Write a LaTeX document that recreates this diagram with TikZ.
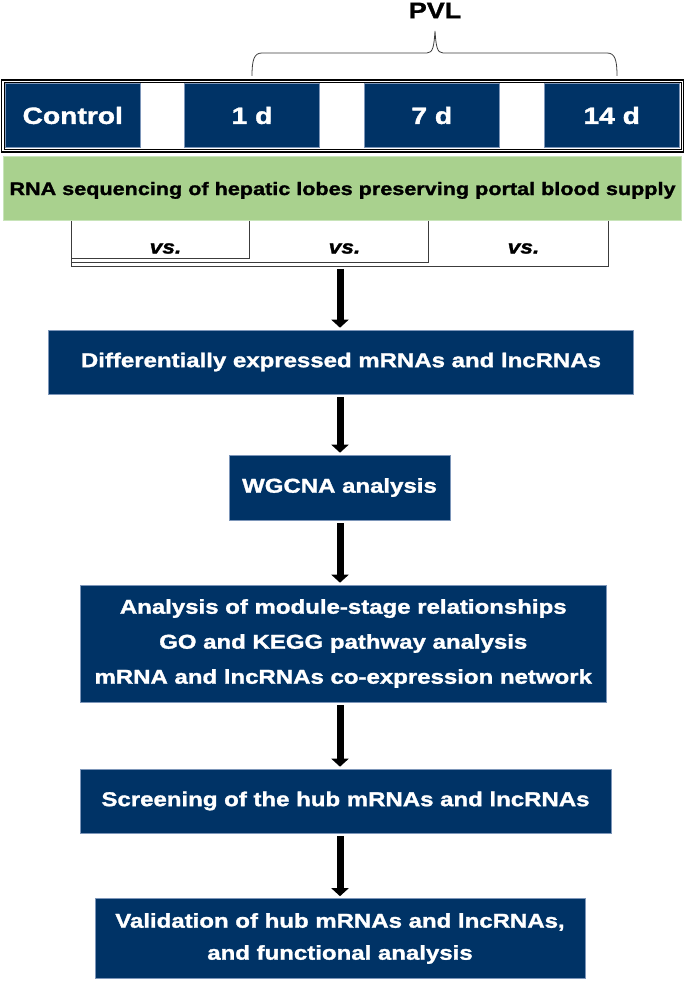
\documentclass[tikz,border=0pt]{standalone}
\usepackage{fontspec}
\setmainfont{Liberation Sans}[FakeStretch=1.2, BoldFeatures={FakeBold=1.5}, BoldItalicFeatures={FakeBold=1.5}]
\usepackage{tikz}
\usetikzlibrary{arrows.meta, positioning}

\definecolor{navy}{RGB}{0,51,102}
\definecolor{navyedge}{RGB}{125,150,185}
\definecolor{leaf}{RGB}{169,209,142}
\definecolor{leafedge}{RGB}{200,228,185}
\definecolor{inkgray}{RGB}{60,60,60}

\begin{document}
\begin{tikzpicture}[x=1pt,y=-1pt,
  stagebox/.style={fill=navy, draw=navyedge, line width=0.6pt, text=white, inner sep=0pt, minimum height=64pt, font=\bfseries\fontsize{23.5}{28}\selectfont},
  flowbox/.style={fill=navy, draw=navyedge, line width=0.6pt, text=white, inner sep=0pt, align=center, font=\bfseries\fontsize{20}{35}\selectfont},
  flowarrow/.style={line width=7pt, -{Triangle[width=17pt,length=8pt]}, shorten <=3pt, shorten >=2pt},
  bracketline/.style={draw=inkgray, line width=0.9pt},
  vslabel/.style={font=\bfseries\itshape\fontsize{19}{22}\selectfont, inner sep=0pt}]
\useasboundingbox (0,0) rectangle (685,981);

%Shape: Brace over the PVL stages
\draw [inkgray, line width=0.8pt] (252,76) .. controls (252,60) and (254,53) .. (262,53) -- (427,53) .. controls (433,53) and (434,46) .. (435,31) .. controls (436,46) and (437,53) .. (443,53) -- (607,53) .. controls (615,53) and (617,60) .. (617,76) ;
% Text Node
\node (pvl) at (435,10.5) [inner sep=0pt, font=\bfseries\fontsize{22.5}{26}\selectfont] {PVL};

%Shape: Double frame of the stages
\draw [line width=1.5pt] (1.5,80) rectangle (683.5,152) ;
\draw [line width=0.6pt] (3.8,82.2) rectangle (681.3,149.8) ;

% Stage nodes
\node (ctrl) at (72.75,115.5) [stagebox, minimum width=134.5pt] {Control};
\node (d1) at (252,115.5) [stagebox, minimum width=135pt] {1 d};
\node (d7) at (431.75,115.5) [stagebox, minimum width=135.5pt] {7 d};
\node (d14) at (611.75,115.5) [stagebox, minimum width=135.5pt] {14 d};

% Sequencing node
\node (seq) at (342.5,188.5) [fill=leaf, draw=leafedge, line width=0.8pt, inner sep=0pt, minimum width=678pt, minimum height=64pt, text depth=0pt, font=\bfseries\fontsize{18}{22}\selectfont] {RNA sequencing of hepatic lobes preserving portal blood supply};

%Straight Lines: comparison brackets
\draw [bracketline] (249.5,221) -- (249.5,258) -- (71,258) ;
\draw [bracketline] (428.5,221) -- (428.5,262) -- (71,262) ;
\draw [bracketline] (608.5,221) -- (608.5,266) -- (71,266) -- (71,221) ;
\node (vsa) at (165.5,248.5) [vslabel] {vs.};
\node (vsb) at (344.5,248.5) [vslabel] {vs.};
\node (vsc) at (523.5,248.5) [vslabel] {vs.};
\coordinate (vsbot) at (340,266);

% Flow nodes
\node (deg) at (341,362) [flowbox, minimum width=585pt, minimum height=64pt] {Differentially expressed mRNAs and lncRNAs};
\node (wgcna) at (339.5,487.5) [flowbox, minimum width=221pt, minimum height=65pt] {WGCNA analysis};
\node (module) at (343.25,643.5) [flowbox, minimum width=525.5pt, minimum height=117pt] {Analysis of module-stage relationships\\GO and KEGG pathway analysis\\mRNA and lncRNAs co-expression network};
\node (hub) at (345.5,801) [flowbox, minimum width=531pt, minimum height=64pt] {Screening of the hub mRNAs and lncRNAs};
\node (valid) at (340,938.5) [flowbox, minimum width=490pt, minimum height=80pt, font=\bfseries\fontsize{20}{32}\selectfont] {Validation of hub mRNAs and lncRNAs,\\and functional analysis};

% Arrows
\draw [flowarrow] (vsbot) -- (vsbot |- deg.north) ;
\draw [flowarrow] (deg.south -| vsbot) -- (vsbot |- wgcna.north) ;
\draw [flowarrow] (wgcna.south -| vsbot) -- (vsbot |- module.north) ;
\draw [flowarrow] (module.south -| vsbot) -- (vsbot |- hub.north) ;
\draw [flowarrow] (hub.south -| vsbot) -- (vsbot |- valid.north) ;

\end{tikzpicture}
\end{document}
